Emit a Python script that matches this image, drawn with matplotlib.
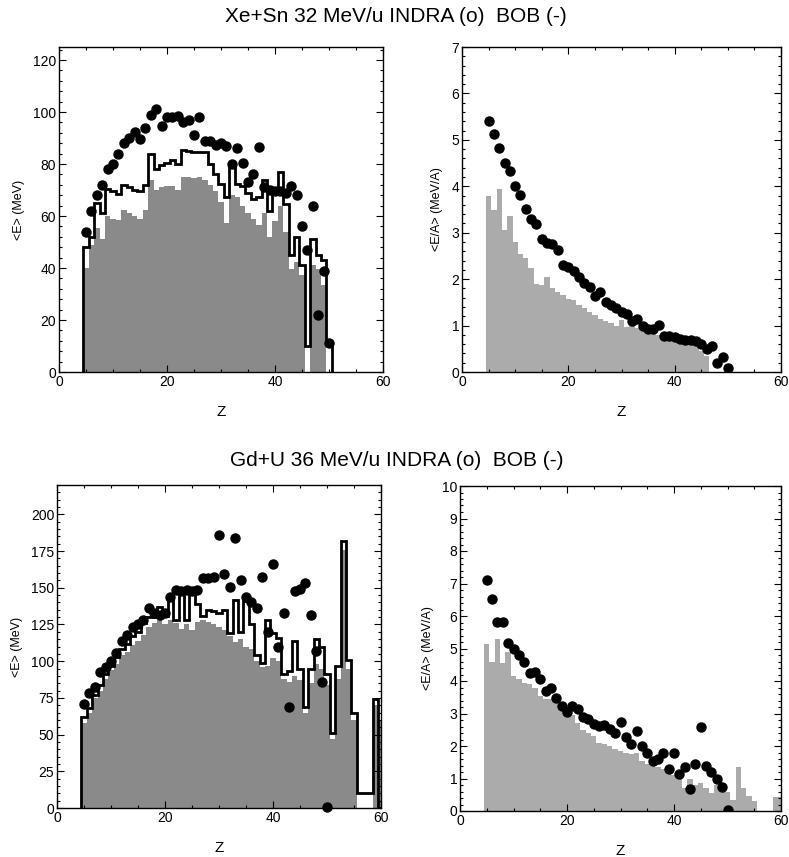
import numpy as np
import matplotlib
matplotlib.use("Agg")
import matplotlib.pyplot as plt
from matplotlib.ticker import MultipleLocator

plt.rcParams['font.family'] = ['Liberation Sans', 'DejaVu Sans']

# %% data (Z = fragment charge, one bin per Z)
z_xe = np.arange(5, 51)
z_gd = np.arange(5, 61)

# Xe+Sn 32 MeV/u : <E> (MeV)
xe_e_gray = [40, 49, 55.5, 51, 60, 59, 58.5, 62.5, 61, 60, 59, 62.5, 74, 70, 71, 71.5,
             71.5, 70, 75, 75, 74.5, 75, 74, 72, 69.5, 65.5, 57.5, 68, 67.5, 64, 61, 59,
             56.5, 61, 52, 58, 64, 54, 39.5, 42.5, 37.5, 0, 41, 39.5, 33.5, 0]
xe_e_bob = [48, 52, 65, 61, 70.5, 69.5, 68.5, 72, 71, 70, 69.5, 72, 84, 78, 79.5, 80.5,
            81.5, 80, 85.5, 85, 84.5, 84.5, 84.5, 80, 76, 72.5, 67.5, 80, 72.5, 71.5, 69,
            66.5, 67.5, 74, 62, 69.5, 77, 64.5, 45, 52, 41, 10, 51, 45, 43, 11]
xe_e_indra = [54, 62, 68, 72, 78, 80, 84, 88, 90, 92.5, 89.5, 94, 99, 101, 94.5, 98, 98,
              98.5, 96, 97, 91, 98, 89, 89, 87.5, 88, 87, 80, 86, 80.5, 73, 76, 86.5, 71,
              70, 69.5, 69.5, 69, 71.5, 68, 56, 47, 64, 22, 39, 11]

# Xe+Sn 32 MeV/u : <E/A> (MeV/A)
xe_ea_gray = [3.8, 3.5, 3.95, 3.05, 3.35, 2.8, 2.55, 2.45, 2.25, 1.9, 1.88, 2.05, 1.8,
              1.72, 1.65, 1.58, 1.55, 1.45, 1.38, 1.3, 1.22, 1.15, 1.1, 1.05, 1.0, 1.12,
              0.98, 1.0, 0.95, 0.9, 0.88, 0.82, 0.8, 0.78, 0.75, 0.72, 0.7, 0.68, 0.64,
              0.55, 0.45, 0.35, 0, 0, 0, 0]
xe_ea_indra = [5.4, 5.12, 4.83, 4.5, 4.33, 4.0, 3.82, 3.52, 3.3, 3.18, 2.87, 2.77, 2.75,
               2.63, 2.3, 2.27, 2.18, 2.05, 1.92, 1.83, 1.64, 1.72, 1.5, 1.45, 1.37, 1.3,
               1.25, 1.1, 1.15, 1.0, 0.92, 0.93, 1.02, 0.77, 0.77, 0.75, 0.72, 0.7, 0.7,
               0.67, 0.6, 0.5, 0.57, 0.2, 0.33, 0.08]

# Gd+U 36 MeV/u : <E> (MeV)
gd_e_gray = [58, 65, 75, 80, 88, 94, 98, 104, 106, 111, 114, 118, 123, 126, 128, 125,
             128, 126, 122, 125, 121, 127, 128, 127, 125, 123, 121, 117, 113, 115, 110,
             108, 100, 96, 97, 102, 100, 88, 86, 90, 87, 65, 85, 98, 95, 84, 47, 88, 176,
             95, 60, 0, 0, 0, 70, 60]
gd_e_bob = [62, 68, 77, 84, 91, 97, 103, 108, 112, 117, 120, 126, 130, 130, 137, 131,
            145, 128, 147, 128, 146, 139, 131, 135, 134, 133, 135, 119, 142, 120, 141,
            125, 104, 99, 128, 119, 116, 91, 93, 114, 95, 69, 95, 115, 110, 91, 51, 97,
            182, 101, 65, 10, 10, 10, 74, 0]
gd_e_indra = [71, 78.5, 82.5, 92.5, 96, 100, 105.5, 113.5, 118, 123, 125.5, 128, 136,
              133, 131.5, 133, 143.5, 148.5, 148, 148.5, 148, 148.5, 156.5, 156.5, 157,
              186, 159.5, 150.5, 184, 155.5, 143.5, 140, 136, 157, 120, 166.5, 110, 133,
              69, 148, 149.5, 153, 131.5, 107, 86, 1,
              np.nan, np.nan, np.nan, np.nan, np.nan, np.nan, np.nan, np.nan, np.nan, np.nan]

# Gd+U 36 MeV/u : <E/A> (MeV/A)
gd_ea_gray = [5.15, 4.6, 5.3, 4.55, 4.9, 4.15, 4.05, 3.95, 3.9, 3.8, 3.55, 3.45, 3.45,
              3.35, 3.15, 3.1, 2.95, 2.72, 2.5, 2.4, 2.3, 2.1, 2.05, 2.0, 1.9, 1.85, 1.8,
              1.75, 1.8, 1.55, 1.45, 1.4, 1.35, 1.3, 1.25, 1.1, 1.0, 0.7, 1.0, 0.8, 0.85,
              0.7, 0.55, 0.8, 0.65, 0.6, 0.35, 1.35, 0.7, 0.45, 0.3, 0, 0, 0, 0.42, 0.42]
gd_ea_indra = [7.1, 6.53, 5.82, 5.82, 5.18, 5.0, 4.79, 4.58, 4.26, 4.28, 4.07, 3.69, 3.8,
               3.47, 3.23, 3.06, 3.23, 3.13, 2.9, 2.82, 2.67, 2.62, 2.64, 2.53, 2.41,
               2.74, 2.29, 2.05, 2.46, 2.0, 1.77, 1.54, 1.59, 1.8, 1.3, 1.8, 1.13, 1.36,
               0.67, 1.44, 2.6, 1.4, 1.2, 0.97, 0.73, 0.03,
               np.nan, np.nan, np.nan, np.nan, np.nan, np.nan, np.nan, np.nan, np.nan, np.nan]

# %% figure
fig = plt.figure(figsize=(7.89, 8.57), dpi=100)
W, H = 789, 857


def place(x0, x1, y0, y1):
    # pixel box -> figure fraction
    return fig.add_axes([x0 / W, 1 - y1 / H, (x1 - x0) / W, (y1 - y0) / H])


ax_tl = place(59, 383, 47, 372)
ax_tr = place(462, 781, 47, 372)
ax_bl = place(57, 381, 485, 808)
ax_br = place(460, 781, 486, 811)

dark_gray = '#8a8a8a'
light_gray = '#ababab'


def style(ax, ymax, ymajor, yminor, ylabel):
    ax.set_xlim(0, 60)
    ax.set_ylim(0, ymax)
    ax.xaxis.set_major_locator(MultipleLocator(20))
    ax.xaxis.set_minor_locator(MultipleLocator(5))
    ax.yaxis.set_major_locator(MultipleLocator(ymajor))
    ax.yaxis.set_minor_locator(MultipleLocator(yminor))
    ax.tick_params(which='both', direction='in', top=True, right=True, labelsize=10,
                   width=0.8)
    ax.tick_params(which='major', length=5, pad=2)
    ax.tick_params(which='minor', length=2.5)
    ax.set_xlabel('Z', fontsize=11, labelpad=12)
    ax.set_ylabel(ylabel, fontsize=9, labelpad=6)
    for s in ax.spines.values():
        s.set_linewidth(1.0)


def edges(z):
    return np.append(z - 0.5, z[-1] + 0.5)


# top left
ax_tl.bar(z_xe, xe_e_gray, width=1.0, color=dark_gray, linewidth=0)
ax_tl.stairs(xe_e_bob, edges(z_xe), baseline=0, color='black', linewidth=2.0)
ax_tl.plot(z_xe, xe_e_indra, 'o', color='black', markersize=6.5)
style(ax_tl, 125, 20, 4, '<E> (MeV)')

# top right
ax_tr.bar(z_xe, xe_ea_gray, width=1.0, color=light_gray, linewidth=0)
ax_tr.plot(z_xe, xe_ea_indra, 'o', color='black', markersize=6.5)
style(ax_tr, 7, 1, 0.2, '<E/A> (MeV/A)')

# bottom left
ax_bl.bar(z_gd, gd_e_gray, width=1.0, color=dark_gray, linewidth=0)
ax_bl.stairs(gd_e_bob, edges(z_gd), baseline=0, color='black', linewidth=2.0)
ax_bl.plot(z_gd, gd_e_indra, 'o', color='black', markersize=6.5, clip_on=False)
style(ax_bl, 220, 25, 5, '<E> (MeV)')

# bottom right
ax_br.bar(z_gd, gd_ea_gray, width=1.0, color=light_gray, linewidth=0)
ax_br.plot(z_gd, gd_ea_indra, 'o', color='black', markersize=6.5)
style(ax_br, 10, 1, 0.2, '<E/A> (MeV/A)')

fig.text(396 / W, 1 - 17 / H, 'Xe+Sn 32 MeV/u INDRA (o)  BOB (-)', ha='center',
         va='center', fontsize=15)
fig.text(397 / W, 1 - 460 / H, 'Gd+U 36 MeV/u INDRA (o)  BOB (-)', ha='center',
         va='center', fontsize=15)

fig.savefig('out.png', dpi=100)
